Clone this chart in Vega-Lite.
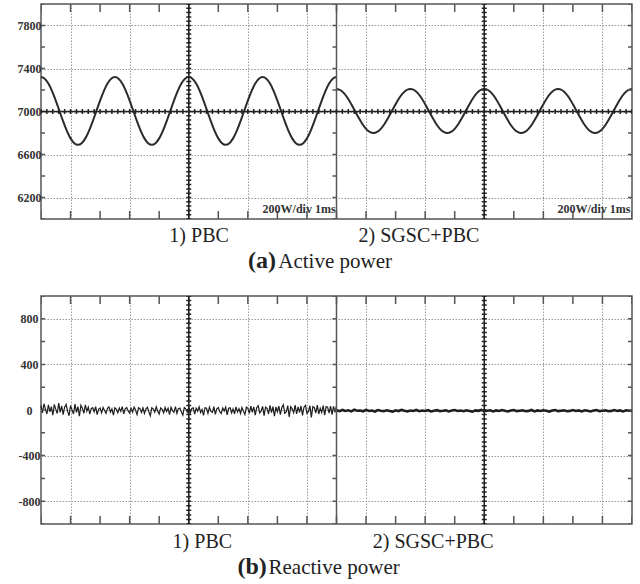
{
  "$schema": "https://vega.github.io/schema/vega-lite/v6.json",
  "padding": {"left": 0, "top": 0, "right": 0, "bottom": 0},
  "spacing": 18,
  "background": "white",
  "config": {
    "view": {"stroke": "#555", "strokeWidth": 1.5},
    "axis": {"gridColor": "#9a9a9a", "gridDash": [1.5, 1.5], "gridWidth": 1, "gridOpacity": 1, "domain": false, "ticks": false, "labelFont": "Liberation Serif, Times New Roman, serif", "labelFontWeight": "bold", "labelFontSize": 12, "labelColor": "#333"},
    "axisY": {"labelAlign": "center", "labelBaseline": "middle", "labelPadding": 12, "minExtent": 40, "maxExtent": 40}
  },
  "datasets": {
    "one": [{}],
    "active": [
      {"s":"PBC","t":0,"p":7320},{"s":"PBC","t":0.125,"p":7305},{"s":"PBC","t":0.25,"p":7260},{"s":"PBC","t":0.375,"p":7190},{"s":"PBC","t":0.5,"p":7102},{"s":"PBC","t":0.625,"p":7005},{"s":"PBC","t":0.75,"p":6908},{"s":"PBC","t":0.875,"p":6820},{"s":"PBC","t":1,"p":6750},{"s":"PBC","t":1.125,"p":6705},{"s":"PBC","t":1.25,"p":6690},{"s":"PBC","t":1.375,"p":6705},{"s":"PBC","t":1.5,"p":6750},{"s":"PBC","t":1.625,"p":6820},{"s":"PBC","t":1.75,"p":6908},{"s":"PBC","t":1.875,"p":7005},{"s":"PBC","t":2,"p":7102},{"s":"PBC","t":2.125,"p":7190},{"s":"PBC","t":2.25,"p":7260},{"s":"PBC","t":2.375,"p":7305},
      {"s":"PBC","t":2.5,"p":7320},{"s":"PBC","t":2.625,"p":7305},{"s":"PBC","t":2.75,"p":7260},{"s":"PBC","t":2.875,"p":7190},{"s":"PBC","t":3,"p":7102},{"s":"PBC","t":3.125,"p":7005},{"s":"PBC","t":3.25,"p":6908},{"s":"PBC","t":3.375,"p":6820},{"s":"PBC","t":3.5,"p":6750},{"s":"PBC","t":3.625,"p":6705},{"s":"PBC","t":3.75,"p":6690},{"s":"PBC","t":3.875,"p":6705},{"s":"PBC","t":4,"p":6750},{"s":"PBC","t":4.125,"p":6820},{"s":"PBC","t":4.25,"p":6908},{"s":"PBC","t":4.375,"p":7005},{"s":"PBC","t":4.5,"p":7102},{"s":"PBC","t":4.625,"p":7190},{"s":"PBC","t":4.75,"p":7260},{"s":"PBC","t":4.875,"p":7305},
      {"s":"PBC","t":5,"p":7320},{"s":"PBC","t":5.125,"p":7305},{"s":"PBC","t":5.25,"p":7260},{"s":"PBC","t":5.375,"p":7190},{"s":"PBC","t":5.5,"p":7102},{"s":"PBC","t":5.625,"p":7005},{"s":"PBC","t":5.75,"p":6908},{"s":"PBC","t":5.875,"p":6820},{"s":"PBC","t":6,"p":6750},{"s":"PBC","t":6.125,"p":6705},{"s":"PBC","t":6.25,"p":6690},{"s":"PBC","t":6.375,"p":6705},{"s":"PBC","t":6.5,"p":6750},{"s":"PBC","t":6.625,"p":6820},{"s":"PBC","t":6.75,"p":6908},{"s":"PBC","t":6.875,"p":7005},{"s":"PBC","t":7,"p":7102},{"s":"PBC","t":7.125,"p":7190},{"s":"PBC","t":7.25,"p":7260},{"s":"PBC","t":7.375,"p":7305},
      {"s":"PBC","t":7.5,"p":7320},{"s":"PBC","t":7.625,"p":7305},{"s":"PBC","t":7.75,"p":7260},{"s":"PBC","t":7.875,"p":7190},{"s":"PBC","t":8,"p":7102},{"s":"PBC","t":8.125,"p":7005},{"s":"PBC","t":8.25,"p":6908},{"s":"PBC","t":8.375,"p":6820},{"s":"PBC","t":8.5,"p":6750},{"s":"PBC","t":8.625,"p":6705},{"s":"PBC","t":8.75,"p":6690},{"s":"PBC","t":8.875,"p":6705},{"s":"PBC","t":9,"p":6750},{"s":"PBC","t":9.125,"p":6820},{"s":"PBC","t":9.25,"p":6908},{"s":"PBC","t":9.375,"p":7005},{"s":"PBC","t":9.5,"p":7102},{"s":"PBC","t":9.625,"p":7190},{"s":"PBC","t":9.75,"p":7260},{"s":"PBC","t":9.875,"p":7305},{"s":"PBC","t":10,"p":7320},
      {"s":"SGSC+PBC","t":10,"p":7210},{"s":"SGSC+PBC","t":10.125,"p":7200},{"s":"SGSC+PBC","t":10.25,"p":7171},{"s":"SGSC+PBC","t":10.375,"p":7126},{"s":"SGSC+PBC","t":10.5,"p":7068},{"s":"SGSC+PBC","t":10.625,"p":7005},{"s":"SGSC+PBC","t":10.75,"p":6942},{"s":"SGSC+PBC","t":10.875,"p":6884},{"s":"SGSC+PBC","t":11,"p":6839},{"s":"SGSC+PBC","t":11.125,"p":6810},{"s":"SGSC+PBC","t":11.25,"p":6800},{"s":"SGSC+PBC","t":11.375,"p":6810},{"s":"SGSC+PBC","t":11.5,"p":6839},{"s":"SGSC+PBC","t":11.625,"p":6884},{"s":"SGSC+PBC","t":11.75,"p":6942},{"s":"SGSC+PBC","t":11.875,"p":7005},{"s":"SGSC+PBC","t":12,"p":7068},{"s":"SGSC+PBC","t":12.125,"p":7126},{"s":"SGSC+PBC","t":12.25,"p":7171},{"s":"SGSC+PBC","t":12.375,"p":7200},
      {"s":"SGSC+PBC","t":12.5,"p":7210},{"s":"SGSC+PBC","t":12.625,"p":7200},{"s":"SGSC+PBC","t":12.75,"p":7171},{"s":"SGSC+PBC","t":12.875,"p":7126},{"s":"SGSC+PBC","t":13,"p":7068},{"s":"SGSC+PBC","t":13.125,"p":7005},{"s":"SGSC+PBC","t":13.25,"p":6942},{"s":"SGSC+PBC","t":13.375,"p":6884},{"s":"SGSC+PBC","t":13.5,"p":6839},{"s":"SGSC+PBC","t":13.625,"p":6810},{"s":"SGSC+PBC","t":13.75,"p":6800},{"s":"SGSC+PBC","t":13.875,"p":6810},{"s":"SGSC+PBC","t":14,"p":6839},{"s":"SGSC+PBC","t":14.125,"p":6884},{"s":"SGSC+PBC","t":14.25,"p":6942},{"s":"SGSC+PBC","t":14.375,"p":7005},{"s":"SGSC+PBC","t":14.5,"p":7068},{"s":"SGSC+PBC","t":14.625,"p":7126},{"s":"SGSC+PBC","t":14.75,"p":7171},{"s":"SGSC+PBC","t":14.875,"p":7200},
      {"s":"SGSC+PBC","t":15,"p":7210},{"s":"SGSC+PBC","t":15.125,"p":7200},{"s":"SGSC+PBC","t":15.25,"p":7171},{"s":"SGSC+PBC","t":15.375,"p":7126},{"s":"SGSC+PBC","t":15.5,"p":7068},{"s":"SGSC+PBC","t":15.625,"p":7005},{"s":"SGSC+PBC","t":15.75,"p":6942},{"s":"SGSC+PBC","t":15.875,"p":6884},{"s":"SGSC+PBC","t":16,"p":6839},{"s":"SGSC+PBC","t":16.125,"p":6810},{"s":"SGSC+PBC","t":16.25,"p":6800},{"s":"SGSC+PBC","t":16.375,"p":6810},{"s":"SGSC+PBC","t":16.5,"p":6839},{"s":"SGSC+PBC","t":16.625,"p":6884},{"s":"SGSC+PBC","t":16.75,"p":6942},{"s":"SGSC+PBC","t":16.875,"p":7005},{"s":"SGSC+PBC","t":17,"p":7068},{"s":"SGSC+PBC","t":17.125,"p":7126},{"s":"SGSC+PBC","t":17.25,"p":7171},{"s":"SGSC+PBC","t":17.375,"p":7200},
      {"s":"SGSC+PBC","t":17.5,"p":7210},{"s":"SGSC+PBC","t":17.625,"p":7200},{"s":"SGSC+PBC","t":17.75,"p":7171},{"s":"SGSC+PBC","t":17.875,"p":7126},{"s":"SGSC+PBC","t":18,"p":7068},{"s":"SGSC+PBC","t":18.125,"p":7005},{"s":"SGSC+PBC","t":18.25,"p":6942},{"s":"SGSC+PBC","t":18.375,"p":6884},{"s":"SGSC+PBC","t":18.5,"p":6839},{"s":"SGSC+PBC","t":18.625,"p":6810},{"s":"SGSC+PBC","t":18.75,"p":6800},{"s":"SGSC+PBC","t":18.875,"p":6810},{"s":"SGSC+PBC","t":19,"p":6839},{"s":"SGSC+PBC","t":19.125,"p":6884},{"s":"SGSC+PBC","t":19.25,"p":6942},{"s":"SGSC+PBC","t":19.375,"p":7005},{"s":"SGSC+PBC","t":19.5,"p":7068},{"s":"SGSC+PBC","t":19.625,"p":7126},{"s":"SGSC+PBC","t":19.75,"p":7171},{"s":"SGSC+PBC","t":19.875,"p":7200},{"s":"SGSC+PBC","t":20,"p":7210}
    ],
    "reactive": [
      {"s":"PBC","t":0,"q":40},{"s":"PBC","t":0.05,"q":-25},{"s":"PBC","t":0.1,"q":55},{"s":"PBC","t":0.15,"q":10},{"s":"PBC","t":0.2,"q":-35},{"s":"PBC","t":0.25,"q":45},{"s":"PBC","t":0.3,"q":-15},{"s":"PBC","t":0.35,"q":30},{"s":"PBC","t":0.4,"q":-45},{"s":"PBC","t":0.45,"q":50},
      {"s":"PBC","t":0.5,"q":5},{"s":"PBC","t":0.55,"q":-30},{"s":"PBC","t":0.6,"q":60},{"s":"PBC","t":0.65,"q":-20},{"s":"PBC","t":0.7,"q":35},{"s":"PBC","t":0.75,"q":-40},{"s":"PBC","t":0.8,"q":25},{"s":"PBC","t":0.85,"q":48},{"s":"PBC","t":0.9,"q":-10},{"s":"PBC","t":0.95,"q":-50},
      {"s":"PBC","t":1,"q":38},{"s":"PBC","t":1.05,"q":0},{"s":"PBC","t":1.1,"q":-35},{"s":"PBC","t":1.15,"q":52},{"s":"PBC","t":1.2,"q":-20},{"s":"PBC","t":1.25,"q":30},{"s":"PBC","t":1.3,"q":-55},{"s":"PBC","t":1.35,"q":42},{"s":"PBC","t":1.4,"q":15},{"s":"PBC","t":1.45,"q":-30},
      {"s":"PBC","t":1.5,"q":45},{"s":"PBC","t":1.55,"q":-10},{"s":"PBC","t":1.6,"q":25},{"s":"PBC","t":1.65,"q":-35},{"s":"PBC","t":1.7,"q":12},{"s":"PBC","t":1.75,"q":20},{"s":"PBC","t":1.8,"q":-15},{"s":"PBC","t":1.85,"q":30},{"s":"PBC","t":1.9,"q":-40},{"s":"PBC","t":1.95,"q":8},
      {"s":"PBC","t":2,"q":18},{"s":"PBC","t":2.05,"q":-25},{"s":"PBC","t":2.1,"q":22},{"s":"PBC","t":2.15,"q":-5},{"s":"PBC","t":2.2,"q":-30},{"s":"PBC","t":2.25,"q":15},{"s":"PBC","t":2.3,"q":28},{"s":"PBC","t":2.35,"q":-20},{"s":"PBC","t":2.4,"q":10},{"s":"PBC","t":2.45,"q":-45},
      {"s":"PBC","t":2.5,"q":20},{"s":"PBC","t":2.55,"q":5},{"s":"PBC","t":2.6,"q":-25},{"s":"PBC","t":2.65,"q":18},{"s":"PBC","t":2.7,"q":-12},{"s":"PBC","t":2.75,"q":30},{"s":"PBC","t":2.8,"q":-35},{"s":"PBC","t":2.85,"q":10},{"s":"PBC","t":2.9,"q":22},{"s":"PBC","t":2.95,"q":-8},
      {"s":"PBC","t":3,"q":-28},{"s":"PBC","t":3.05,"q":15},{"s":"PBC","t":3.1,"q":-18},{"s":"PBC","t":3.15,"q":25},{"s":"PBC","t":3.2,"q":0},{"s":"PBC","t":3.25,"q":-40},{"s":"PBC","t":3.3,"q":20},{"s":"PBC","t":3.35,"q":12},{"s":"PBC","t":3.4,"q":-22},{"s":"PBC","t":3.45,"q":18},
      {"s":"PBC","t":3.5,"q":-30},{"s":"PBC","t":3.55,"q":8},{"s":"PBC","t":3.6,"q":25},{"s":"PBC","t":3.65,"q":-15},{"s":"PBC","t":3.7,"q":-50},{"s":"PBC","t":3.75,"q":20},{"s":"PBC","t":3.8,"q":10},{"s":"PBC","t":3.85,"q":-20},{"s":"PBC","t":3.9,"q":28},{"s":"PBC","t":3.95,"q":-10},
      {"s":"PBC","t":4,"q":-35},{"s":"PBC","t":4.05,"q":18},{"s":"PBC","t":4.1,"q":5},{"s":"PBC","t":4.15,"q":-25},{"s":"PBC","t":4.2,"q":22},{"s":"PBC","t":4.25,"q":-12},{"s":"PBC","t":4.3,"q":15},{"s":"PBC","t":4.35,"q":-40},{"s":"PBC","t":4.4,"q":25},{"s":"PBC","t":4.45,"q":-5},
      {"s":"PBC","t":4.5,"q":-20},{"s":"PBC","t":4.55,"q":30},{"s":"PBC","t":4.6,"q":-30},{"s":"PBC","t":4.65,"q":12},{"s":"PBC","t":4.7,"q":18},{"s":"PBC","t":4.75,"q":-15},{"s":"PBC","t":4.8,"q":-45},{"s":"PBC","t":4.85,"q":22},{"s":"PBC","t":4.9,"q":8},{"s":"PBC","t":4.95,"q":-18},
      {"s":"PBC","t":5,"q":25},{"s":"PBC","t":5.05,"q":-28},{"s":"PBC","t":5.1,"q":12},{"s":"PBC","t":5.15,"q":20},{"s":"PBC","t":5.2,"q":-35},{"s":"PBC","t":5.25,"q":15},{"s":"PBC","t":5.3,"q":-10},{"s":"PBC","t":5.35,"q":28},{"s":"PBC","t":5.4,"q":-22},{"s":"PBC","t":5.45,"q":5},
      {"s":"PBC","t":5.5,"q":-48},{"s":"PBC","t":5.55,"q":20},{"s":"PBC","t":5.6,"q":15},{"s":"PBC","t":5.65,"q":-30},{"s":"PBC","t":5.7,"q":25},{"s":"PBC","t":5.75,"q":-12},{"s":"PBC","t":5.8,"q":-20},{"s":"PBC","t":5.85,"q":30},{"s":"PBC","t":5.9,"q":-38},{"s":"PBC","t":5.95,"q":10},
      {"s":"PBC","t":6,"q":22},{"s":"PBC","t":6.05,"q":-15},{"s":"PBC","t":6.1,"q":-30},{"s":"PBC","t":6.15,"q":18},{"s":"PBC","t":6.2,"q":-8},{"s":"PBC","t":6.25,"q":25},{"s":"PBC","t":6.3,"q":-42},{"s":"PBC","t":6.35,"q":15},{"s":"PBC","t":6.4,"q":20},{"s":"PBC","t":6.45,"q":-25},
      {"s":"PBC","t":6.5,"q":10},{"s":"PBC","t":6.55,"q":-35},{"s":"PBC","t":6.6,"q":28},{"s":"PBC","t":6.65,"q":-18},{"s":"PBC","t":6.7,"q":12},{"s":"PBC","t":6.75,"q":-30},{"s":"PBC","t":6.8,"q":22},{"s":"PBC","t":6.85,"q":-10},{"s":"PBC","t":6.9,"q":-40},{"s":"PBC","t":6.95,"q":25},
      {"s":"PBC","t":7,"q":15},{"s":"PBC","t":7.05,"q":-30},{"s":"PBC","t":7.1,"q":35},{"s":"PBC","t":7.15,"q":-20},{"s":"PBC","t":7.2,"q":28},{"s":"PBC","t":7.25,"q":-45},{"s":"PBC","t":7.3,"q":20},{"s":"PBC","t":7.35,"q":38},{"s":"PBC","t":7.4,"q":-25},{"s":"PBC","t":7.45,"q":-10},
      {"s":"PBC","t":7.5,"q":32},{"s":"PBC","t":7.55,"q":-50},{"s":"PBC","t":7.6,"q":25},{"s":"PBC","t":7.65,"q":15},{"s":"PBC","t":7.7,"q":-35},{"s":"PBC","t":7.75,"q":40},{"s":"PBC","t":7.8,"q":-22},{"s":"PBC","t":7.85,"q":30},{"s":"PBC","t":7.9,"q":-55},{"s":"PBC","t":7.95,"q":28},
      {"s":"PBC","t":8,"q":-15},{"s":"PBC","t":8.05,"q":35},{"s":"PBC","t":8.1,"q":-40},{"s":"PBC","t":8.15,"q":22},{"s":"PBC","t":8.2,"q":45},{"s":"PBC","t":8.25,"q":-30},{"s":"PBC","t":8.3,"q":-18},{"s":"PBC","t":8.35,"q":38},{"s":"PBC","t":8.4,"q":-60},{"s":"PBC","t":8.45,"q":30},
      {"s":"PBC","t":8.5,"q":10},{"s":"PBC","t":8.55,"q":-25},{"s":"PBC","t":8.6,"q":42},{"s":"PBC","t":8.65,"q":-35},{"s":"PBC","t":8.7,"q":28},{"s":"PBC","t":8.75,"q":-20},{"s":"PBC","t":8.8,"q":35},{"s":"PBC","t":8.85,"q":-48},{"s":"PBC","t":8.9,"q":25},{"s":"PBC","t":8.95,"q":40},
      {"s":"PBC","t":9,"q":-30},{"s":"PBC","t":9.05,"q":-15},{"s":"PBC","t":9.1,"q":38},{"s":"PBC","t":9.15,"q":-65},{"s":"PBC","t":9.2,"q":30},{"s":"PBC","t":9.25,"q":20},{"s":"PBC","t":9.3,"q":-28},{"s":"PBC","t":9.35,"q":42},{"s":"PBC","t":9.4,"q":-35},{"s":"PBC","t":9.45,"q":15},
      {"s":"PBC","t":9.5,"q":-22},{"s":"PBC","t":9.55,"q":38},{"s":"PBC","t":9.6,"q":-45},{"s":"PBC","t":9.65,"q":30},{"s":"PBC","t":9.7,"q":25},{"s":"PBC","t":9.75,"q":-28},{"s":"PBC","t":9.8,"q":35},{"s":"PBC","t":9.85,"q":-40},{"s":"PBC","t":9.9,"q":32},{"s":"PBC","t":9.95,"q":-20},{"s":"PBC","t":10,"q":35},
      {"s":"SGSC+PBC","t":10,"q":-2},{"s":"SGSC+PBC","t":10.1,"q":-10},{"s":"SGSC+PBC","t":10.2,"q":0},{"s":"SGSC+PBC","t":10.3,"q":-8},{"s":"SGSC+PBC","t":10.4,"q":-3},{"s":"SGSC+PBC","t":10.5,"q":-12},{"s":"SGSC+PBC","t":10.6,"q":2},{"s":"SGSC+PBC","t":10.7,"q":-7},{"s":"SGSC+PBC","t":10.8,"q":-4},{"s":"SGSC+PBC","t":10.9,"q":-11},
      {"s":"SGSC+PBC","t":11,"q":1},{"s":"SGSC+PBC","t":11.1,"q":-9},{"s":"SGSC+PBC","t":11.2,"q":-5},{"s":"SGSC+PBC","t":11.3,"q":-13},{"s":"SGSC+PBC","t":11.4,"q":0},{"s":"SGSC+PBC","t":11.5,"q":-6},{"s":"SGSC+PBC","t":11.6,"q":-10},{"s":"SGSC+PBC","t":11.7,"q":-2},{"s":"SGSC+PBC","t":11.8,"q":-8},{"s":"SGSC+PBC","t":11.9,"q":-14},
      {"s":"SGSC+PBC","t":12,"q":-3},{"s":"SGSC+PBC","t":12.1,"q":-9},{"s":"SGSC+PBC","t":12.2,"q":1},{"s":"SGSC+PBC","t":12.3,"q":-7},{"s":"SGSC+PBC","t":12.4,"q":-12},{"s":"SGSC+PBC","t":12.5,"q":-4},{"s":"SGSC+PBC","t":12.6,"q":-8},{"s":"SGSC+PBC","t":12.7,"q":0},{"s":"SGSC+PBC","t":12.8,"q":-11},{"s":"SGSC+PBC","t":12.9,"q":-5},
      {"s":"SGSC+PBC","t":13,"q":-9},{"s":"SGSC+PBC","t":13.1,"q":-2},{"s":"SGSC+PBC","t":13.2,"q":-13},{"s":"SGSC+PBC","t":13.3,"q":-6},{"s":"SGSC+PBC","t":13.4,"q":-1},{"s":"SGSC+PBC","t":13.5,"q":-10},{"s":"SGSC+PBC","t":13.6,"q":-7},{"s":"SGSC+PBC","t":13.7,"q":-3},{"s":"SGSC+PBC","t":13.8,"q":-12},{"s":"SGSC+PBC","t":13.9,"q":-4},
      {"s":"SGSC+PBC","t":14,"q":0},{"s":"SGSC+PBC","t":14.1,"q":-9},{"s":"SGSC+PBC","t":14.2,"q":-5},{"s":"SGSC+PBC","t":14.3,"q":-11},{"s":"SGSC+PBC","t":14.4,"q":-2},{"s":"SGSC+PBC","t":14.5,"q":-8},{"s":"SGSC+PBC","t":14.6,"q":-14},{"s":"SGSC+PBC","t":14.7,"q":-3},{"s":"SGSC+PBC","t":14.8,"q":-7},{"s":"SGSC+PBC","t":14.9,"q":1},
      {"s":"SGSC+PBC","t":15,"q":-10},{"s":"SGSC+PBC","t":15.1,"q":-6},{"s":"SGSC+PBC","t":15.2,"q":-2},{"s":"SGSC+PBC","t":15.3,"q":-12},{"s":"SGSC+PBC","t":15.4,"q":-4},{"s":"SGSC+PBC","t":15.5,"q":-9},{"s":"SGSC+PBC","t":15.6,"q":0},{"s":"SGSC+PBC","t":15.7,"q":-7},{"s":"SGSC+PBC","t":15.8,"q":-13},{"s":"SGSC+PBC","t":15.9,"q":-5},
      {"s":"SGSC+PBC","t":16,"q":-1},{"s":"SGSC+PBC","t":16.1,"q":-10},{"s":"SGSC+PBC","t":16.2,"q":-6},{"s":"SGSC+PBC","t":16.3,"q":-3},{"s":"SGSC+PBC","t":16.4,"q":-11},{"s":"SGSC+PBC","t":16.5,"q":-8},{"s":"SGSC+PBC","t":16.6,"q":0},{"s":"SGSC+PBC","t":16.7,"q":-12},{"s":"SGSC+PBC","t":16.8,"q":-4},{"s":"SGSC+PBC","t":16.9,"q":-9},
      {"s":"SGSC+PBC","t":17,"q":-2},{"s":"SGSC+PBC","t":17.1,"q":-7},{"s":"SGSC+PBC","t":17.2,"q":-14},{"s":"SGSC+PBC","t":17.3,"q":-5},{"s":"SGSC+PBC","t":17.4,"q":-1},{"s":"SGSC+PBC","t":17.5,"q":-10},{"s":"SGSC+PBC","t":17.6,"q":-6},{"s":"SGSC+PBC","t":17.7,"q":-3},{"s":"SGSC+PBC","t":17.8,"q":-11},{"s":"SGSC+PBC","t":17.9,"q":-8},
      {"s":"SGSC+PBC","t":18,"q":0},{"s":"SGSC+PBC","t":18.1,"q":-9},{"s":"SGSC+PBC","t":18.2,"q":-4},{"s":"SGSC+PBC","t":18.3,"q":-12},{"s":"SGSC+PBC","t":18.4,"q":-2},{"s":"SGSC+PBC","t":18.5,"q":-7},{"s":"SGSC+PBC","t":18.6,"q":-13},{"s":"SGSC+PBC","t":18.7,"q":-5},{"s":"SGSC+PBC","t":18.8,"q":-1},{"s":"SGSC+PBC","t":18.9,"q":-10},
      {"s":"SGSC+PBC","t":19,"q":-6},{"s":"SGSC+PBC","t":19.1,"q":-3},{"s":"SGSC+PBC","t":19.2,"q":-11},{"s":"SGSC+PBC","t":19.3,"q":-8},{"s":"SGSC+PBC","t":19.4,"q":0},{"s":"SGSC+PBC","t":19.5,"q":-9},{"s":"SGSC+PBC","t":19.6,"q":-4},{"s":"SGSC+PBC","t":19.7,"q":-12},{"s":"SGSC+PBC","t":19.8,"q":-2},{"s":"SGSC+PBC","t":19.9,"q":-7},{"s":"SGSC+PBC","t":20,"q":-5}
    ]
  },
  "vconcat": [
    {
      "width": 591,
      "height": 215,
      "layer": [
        {
          "data": {"name": "active"},
          "mark": {"type": "line", "color": "#2b2b2b", "strokeWidth": 2, "interpolate": "monotone"},
          "encoding": {
            "x": {"field": "t", "type": "quantitative", "scale": {"domain": [0, 20], "nice": false, "zero": false},
                  "axis": {"title": null, "values": [1,2,3,4,5,6,7,8,9,10,11,12,13,14,15,16,17,18,19], "labels": false, "grid": true}},
            "y": {"field": "p", "type": "quantitative", "scale": {"domain": [6000, 8000], "nice": false, "zero": false},
                  "axis": {"title": null, "values": [6200,6400,6600,6800,7000,7200,7400,7600,7800], "grid": true,
                           "labelExpr": "((datum.value - 6200) % 400 == 0) ? ('' + datum.value) : ''"}},
            "detail": {"field": "s", "type": "nominal"}
          }
        },
        {"data": {"name": "one"}, "mark": {"type": "rule", "color": "#555", "strokeWidth": 8, "strokeDash": [1.5, 28.05], "strokeDashOffset": 0.75}, "encoding": {"y": {"datum": 7963}}},
        {"data": {"name": "one"}, "mark": {"type": "rule", "color": "#555", "strokeWidth": 8, "strokeDash": [1.5, 28.05], "strokeDashOffset": 0.75}, "encoding": {"y": {"datum": 6037}}},
        {"data": {"name": "one"}, "mark": {"type": "rule", "color": "#555", "strokeWidth": 4, "strokeDash": [1.5, 20], "strokeDashOffset": 0.75}, "encoding": {"x": {"datum": 0.068}}},
        {"data": {"name": "one"}, "mark": {"type": "rule", "color": "#555", "strokeWidth": 4, "strokeDash": [1.5, 20], "strokeDashOffset": 0.75}, "encoding": {"x": {"datum": 9.932}}},
        {"data": {"name": "one"}, "mark": {"type": "rule", "color": "#555", "strokeWidth": 4, "strokeDash": [1.5, 20], "strokeDashOffset": 0.75}, "encoding": {"x": {"datum": 19.932}}},
        {"data": {"name": "one"}, "mark": {"type": "rule", "color": "#555", "strokeWidth": 1.5}, "encoding": {"x": {"datum": 10}}},
        {"data": {"name": "one"}, "mark": {"type": "rule", "color": "#222", "strokeWidth": 1.5}, "encoding": {"x": {"datum": 5}}},
        {"data": {"name": "one"}, "mark": {"type": "rule", "color": "#222", "strokeWidth": 1.5}, "encoding": {"x": {"datum": 15}}},
        {"data": {"name": "one"}, "mark": {"type": "rule", "color": "#222", "strokeWidth": 5, "strokeDash": [1.5, 2.8], "strokeDashOffset": 0.75}, "encoding": {"x": {"datum": 5}}},
        {"data": {"name": "one"}, "mark": {"type": "rule", "color": "#222", "strokeWidth": 5, "strokeDash": [1.5, 2.8], "strokeDashOffset": 0.75}, "encoding": {"x": {"datum": 15}}},
        {"data": {"name": "one"}, "mark": {"type": "rule", "color": "#222", "strokeWidth": 1.5}, "encoding": {"y": {"datum": 7000}}},
        {"data": {"name": "one"}, "mark": {"type": "rule", "color": "#222", "strokeWidth": 5, "strokeDash": [1.5, 4.41], "strokeDashOffset": 0.75}, "encoding": {"y": {"datum": 7000}}},
        {"data": {"name": "one"}, "mark": {"type": "text", "font": "Liberation Serif, Times New Roman, serif", "fontWeight": "bold", "fontSize": 12, "color": "#333", "align": "right", "baseline": "alphabetic"}, "encoding": {"x": {"datum": 9.97}, "y": {"datum": 6056}, "text": {"value": "200W/div  1ms"}}},
        {"data": {"name": "one"}, "mark": {"type": "text", "font": "Liberation Serif, Times New Roman, serif", "fontWeight": "bold", "fontSize": 12, "color": "#333", "align": "right", "baseline": "alphabetic"}, "encoding": {"x": {"datum": 19.95}, "y": {"datum": 6056}, "text": {"value": "200W/div  1ms"}}},
        {"data": {"name": "one"}, "mark": {"type": "text", "font": "Liberation Serif, Times New Roman, serif", "fontSize": 20, "color": "#222", "align": "center", "baseline": "alphabetic"}, "encoding": {"x": {"datum": 5.35}, "y": {"datum": 5786}, "text": {"value": "1) PBC"}}},
        {"data": {"name": "one"}, "mark": {"type": "text", "font": "Liberation Serif, Times New Roman, serif", "fontSize": 20, "color": "#222", "align": "center", "baseline": "alphabetic"}, "encoding": {"x": {"datum": 12.79}, "y": {"datum": 5786}, "text": {"value": "2) SGSC+PBC"}}},
        {"data": {"name": "one"}, "mark": {"type": "text", "font": "Liberation Serif, Times New Roman, serif", "fontWeight": "bold", "fontSize": 24, "color": "#222", "align": "right", "baseline": "alphabetic"}, "encoding": {"x": {"datum": 7.95}, "y": {"datum": 5544}, "text": {"value": "(a)"}}},
        {"data": {"name": "one"}, "mark": {"type": "text", "font": "Liberation Serif, Times New Roman, serif", "fontSize": 21, "color": "#222", "align": "left", "baseline": "alphabetic"}, "encoding": {"x": {"datum": 8.03}, "y": {"datum": 5544}, "text": {"value": "Active power"}}}
      ]
    },
    {
      "width": 591,
      "height": 228,
      "layer": [
        {
          "data": {"name": "reactive"},
          "mark": {"type": "line", "color": "#1e1e1e"},
          "encoding": {
            "x": {"field": "t", "type": "quantitative", "scale": {"domain": [0, 20], "nice": false, "zero": false},
                  "axis": {"title": null, "values": [1,2,3,4,5,6,7,8,9,10,11,12,13,14,15,16,17,18,19], "labels": false, "grid": true}},
            "y": {"field": "q", "type": "quantitative", "scale": {"domain": [-1000, 1000], "nice": false, "zero": false},
                  "axis": {"title": null, "values": [-800,-600,-400,-200,0,200,400,600,800], "grid": true,
                           "labelExpr": "(datum.value % 400 == 0) ? ('' + datum.value) : ''"}},
            "detail": {"field": "s", "type": "nominal"},
            "strokeWidth": {"field": "s", "type": "nominal", "scale": {"domain": ["PBC", "SGSC+PBC"], "range": [1.2, 2.6]}, "legend": null}
          }
        },
        {"data": {"name": "one"}, "mark": {"type": "rule", "color": "#555", "strokeWidth": 8, "strokeDash": [1.5, 28.05], "strokeDashOffset": 0.75}, "encoding": {"y": {"datum": 965}}},
        {"data": {"name": "one"}, "mark": {"type": "rule", "color": "#555", "strokeWidth": 8, "strokeDash": [1.5, 28.05], "strokeDashOffset": 0.75}, "encoding": {"y": {"datum": -965}}},
        {"data": {"name": "one"}, "mark": {"type": "rule", "color": "#555", "strokeWidth": 4, "strokeDash": [1.5, 21.3], "strokeDashOffset": 0.75}, "encoding": {"x": {"datum": 0.068}}},
        {"data": {"name": "one"}, "mark": {"type": "rule", "color": "#555", "strokeWidth": 4, "strokeDash": [1.5, 21.3], "strokeDashOffset": 0.75}, "encoding": {"x": {"datum": 9.932}}},
        {"data": {"name": "one"}, "mark": {"type": "rule", "color": "#555", "strokeWidth": 4, "strokeDash": [1.5, 21.3], "strokeDashOffset": 0.75}, "encoding": {"x": {"datum": 19.932}}},
        {"data": {"name": "one"}, "mark": {"type": "rule", "color": "#555", "strokeWidth": 1.5}, "encoding": {"x": {"datum": 10}}},
        {"data": {"name": "one"}, "mark": {"type": "rule", "color": "#222", "strokeWidth": 1.5}, "encoding": {"x": {"datum": 5}}},
        {"data": {"name": "one"}, "mark": {"type": "rule", "color": "#222", "strokeWidth": 1.5}, "encoding": {"x": {"datum": 15}}},
        {"data": {"name": "one"}, "mark": {"type": "rule", "color": "#222", "strokeWidth": 5, "strokeDash": [1.5, 3.06], "strokeDashOffset": 0.75}, "encoding": {"x": {"datum": 5}}},
        {"data": {"name": "one"}, "mark": {"type": "rule", "color": "#222", "strokeWidth": 5, "strokeDash": [1.5, 3.06], "strokeDashOffset": 0.75}, "encoding": {"x": {"datum": 15}}},
        {"data": {"name": "one"}, "mark": {"type": "text", "font": "Liberation Serif, Times New Roman, serif", "fontSize": 20, "color": "#222", "align": "center", "baseline": "alphabetic"}, "encoding": {"x": {"datum": 5.46}, "y": {"datum": -1210}, "text": {"value": "1) PBC"}}},
        {"data": {"name": "one"}, "mark": {"type": "text", "font": "Liberation Serif, Times New Roman, serif", "fontSize": 20, "color": "#222", "align": "center", "baseline": "alphabetic"}, "encoding": {"x": {"datum": 13.27}, "y": {"datum": -1210}, "text": {"value": "2) SGSC+PBC"}}},
        {"data": {"name": "one"}, "mark": {"type": "text", "font": "Liberation Serif, Times New Roman, serif", "fontWeight": "bold", "fontSize": 24, "color": "#222", "align": "right", "baseline": "alphabetic"}, "encoding": {"x": {"datum": 7.64}, "y": {"datum": -1439}, "text": {"value": "(b)"}}},
        {"data": {"name": "one"}, "mark": {"type": "text", "font": "Liberation Serif, Times New Roman, serif", "fontSize": 21, "color": "#222", "align": "left", "baseline": "alphabetic"}, "encoding": {"x": {"datum": 7.7}, "y": {"datum": -1439}, "text": {"value": "Reactive power"}}}
      ]
    }
  ]
}
